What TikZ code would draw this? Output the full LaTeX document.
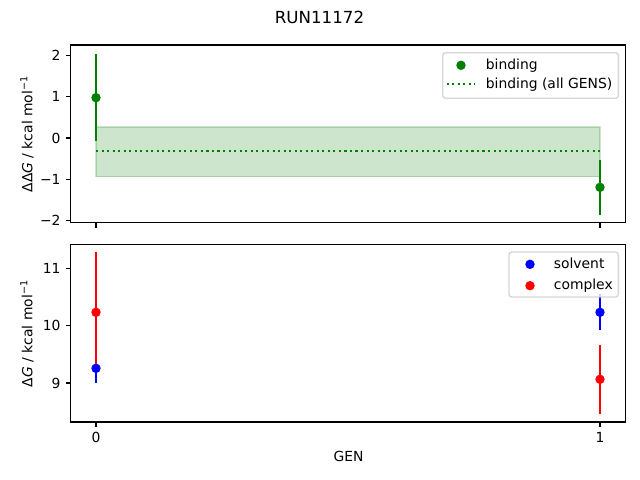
\documentclass[tikz,border=0pt]{standalone}
\usepackage{fontspec}
\setmainfont{DejaVu Sans}
\definecolor{mplgreen}{HTML}{008000}
\definecolor{mplblue}{HTML}{0000FF}
\definecolor{mplred}{HTML}{FF0000}
\definecolor{legedge}{HTML}{CCCCCC}
\begin{document}
\begin{tikzpicture}[x=0.72pt,y=-0.72pt,
  spine/.style={line width=0.8pt,black},
  tickmark/.style={line width=0.8pt,black},
  ticklab/.style={inner sep=0pt,font=\fontsize{10}{12}\selectfont},
  lab/.style={inner sep=0pt,font=\fontsize{10}{12}\selectfont},
  errbar/.style={line width=1.5pt},
  datadot/.style={radius=3.4pt},
  legbox/.style={draw=legedge,line width=1pt,fill=white,fill opacity=0.8,draw opacity=0.8,rounded corners=2pt},
  band/.style={fill=mplgreen,fill opacity=0.2,draw=mplgreen,draw opacity=0.2,line width=1pt},
  meanline/.style={mplgreen,line width=1.5pt,dash pattern=on 1.5pt off 2.475pt}
]
\useasboundingbox (0,0) rectangle (640,480);
\fill[white] (0,0) rectangle (640,480);

% title
\node[inner sep=0pt,font=\fontsize{12}{14}\selectfont] (title) at (319.5,17.3) {RUN11172};

% ---------- top axes ----------
\draw[band] (96,127) rectangle (600,176.7);
\draw[meanline] (96,150.7) -- (600,150.7);
\draw[errbar,mplgreen] (96,54) -- (96,141.4);
\draw[errbar,mplgreen] (600,159.6) -- (600,215);
\fill[mplgreen,datadot] (96,97.7) circle;
\fill[mplgreen,datadot] (600,187.3) circle;

\draw[spine] (70.5,45) rectangle (625.5,222.7);
\foreach \yy/\lab/\nm in {55.3/2/a,96.7/1/b,138/0/c,179.3/−1/d,220.7/−2/e}{
  \draw[tickmark] (70.5,\yy) -- ++(-3.5pt,0);
  \node[ticklab,anchor=east] (ytop\nm) at ([xshift=-7pt]70.5,\yy) {\lab};
}
\foreach \xx in {96,600}{
  \draw[tickmark] (\xx,222.7) -- ++(0,-3.5pt);
}
\node[lab,rotate=90,anchor=base] (ylabtop) at (32.3,134) {ΔΔ\textit{G} / kcal mol\textsuperscript{−1}};

% legend top
\draw[legbox] (442.7,52.7) rectangle (618.3,98.3);
\fill[mplgreen,datadot] (461,65.3) circle;
\draw[meanline] (446.7,84.3) -- (475,84.3);
\node[lab,anchor=base west] (legbind) at (485.6,69) {binding};
\node[lab,anchor=base west] (legall) at (485.6,88) {binding (all GENS)};

% ---------- bottom axes ----------
\draw[errbar,mplblue] (96,353.9) -- (96,382.7);
\draw[errbar,mplblue] (600,294.3) -- (600,330.3);
\draw[errbar,mplred] (96,251.7) -- (96,372.9);
\draw[errbar,mplred] (600,344.8) -- (600,413.8);
\fill[mplblue,datadot] (96,368.3) circle;
\fill[mplblue,datadot] (600,312.3) circle;
\fill[mplred,datadot] (96,312.3) circle;
\fill[mplred,datadot] (600,379.3) circle;

\draw[spine] (70.5,244.3) rectangle (625.5,422);
\foreach \yy/\lab/\nm in {268.4/11/a,325.7/10/b,383/9/c}{
  \draw[tickmark] (70.5,\yy) -- ++(-3.5pt,0);
  \node[ticklab,anchor=east] (ybot\nm) at ([xshift=-7pt]70.5,\yy) {\lab};
}
\foreach \xx/\lab/\nm in {96/0/a,600/1/b}{
  \draw[tickmark] (\xx,422) -- ++(0,-3.5pt);
  \node[ticklab,anchor=north] (xbot\nm) at ([yshift=-7pt]\xx,422) {\lab};
}
\node[lab,rotate=90,anchor=base] (ylabbot) at (32.3,333.5) {Δ\textit{G} / kcal mol\textsuperscript{−1}};
\node[lab] (xlab) at (348.5,456.7) {GEN};

% legend bottom
\draw[legbox] (509,252) rectangle (618.3,297);
\fill[mplblue,datadot] (530,264.3) circle;
\fill[mplred,datadot] (530,285.7) circle;
\node[lab,anchor=base west] (legsolv) at (553.6,268) {solvent};
\node[lab,anchor=base west] (legcomp) at (553.6,289.5) {complex};
\end{tikzpicture}
\end{document}
